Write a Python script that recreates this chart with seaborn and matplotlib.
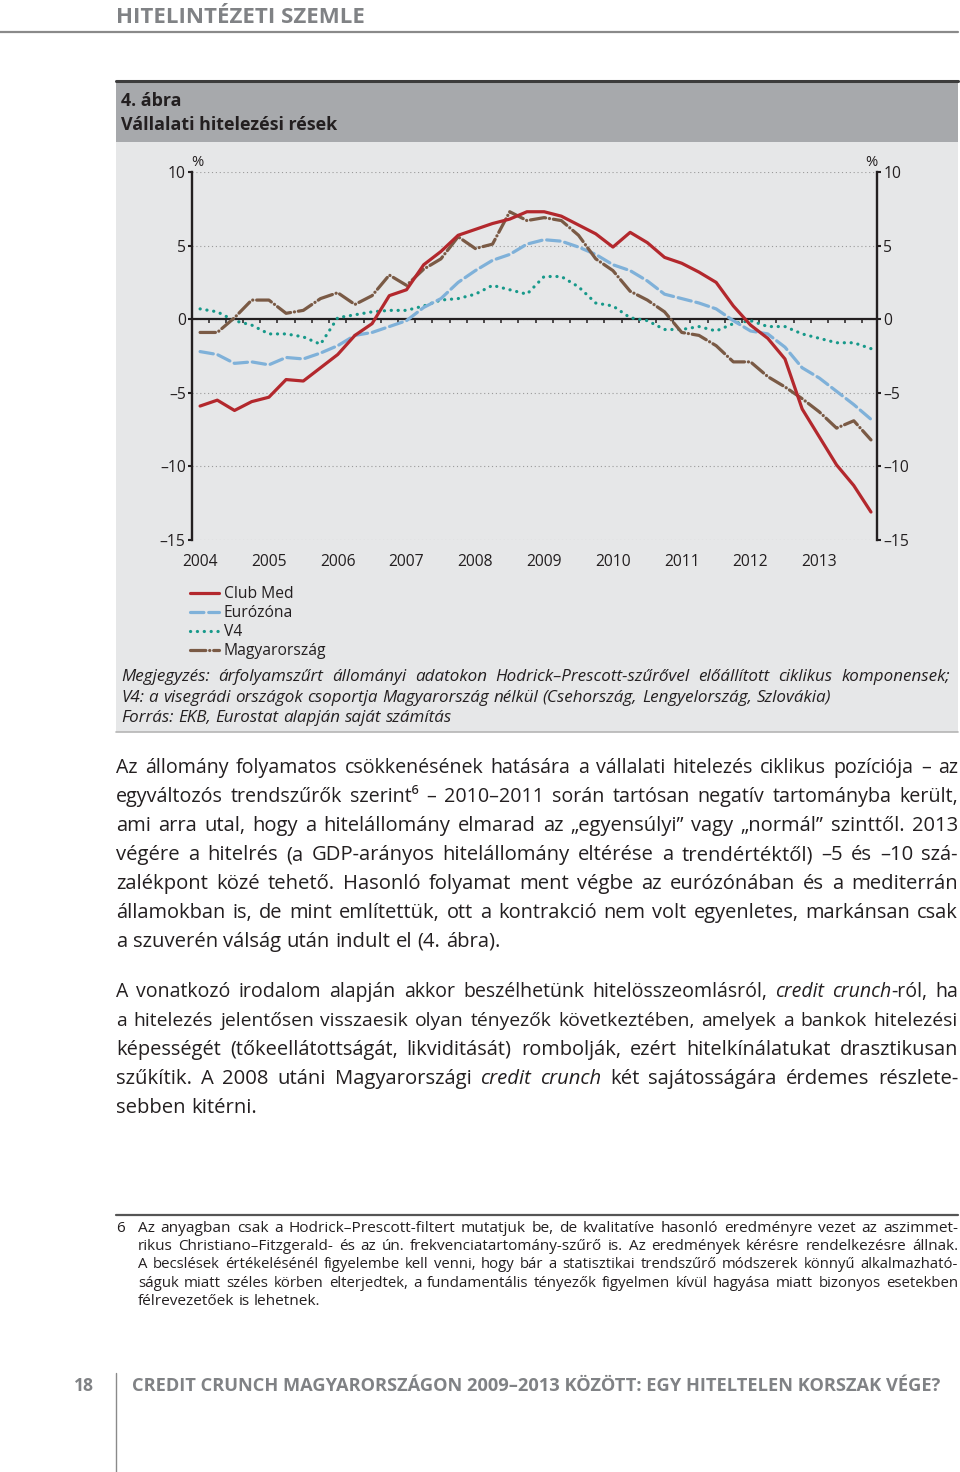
import numpy as np
import pandas as pd
import matplotlib
matplotlib.use("Agg")
import matplotlib.pyplot as plt
import matplotlib.transforms as mtransforms
from matplotlib.lines import Line2D
from matplotlib.patches import Rectangle
import seaborn as sns

# Chart data (quarterly, 2004Q1 - 2013Q4)
years = [2004, 2005, 2006, 2007, 2008, 2009, 2010, 2011, 2012, 2013]
club_med = [-5.9, -5.5, -6.2, -5.6, -5.3, -4.1, -4.2, -3.3, -2.4, -1.1,
            -0.3, 1.6, 2.0, 3.7, 4.6, 5.7, 6.1, 6.5, 6.8, 7.3,
            7.3, 7.0, 6.4, 5.8, 4.9, 5.9, 5.2, 4.2, 3.8, 3.2,
            2.5, 0.9, -0.4, -1.3, -2.7, -6.1, -8.0, -9.9, -11.3, -13.1]
eurozona = [-2.2, -2.4, -3.0, -2.9, -3.1, -2.6, -2.7, -2.3, -1.8, -1.1,
            -0.9, -0.5, -0.1, 0.8, 1.4, 2.5, 3.3, 4.0, 4.4, 5.1,
            5.4, 5.3, 4.9, 4.4, 3.7, 3.3, 2.6, 1.7, 1.4, 1.1,
            0.7, -0.1, -0.8, -1.0, -1.9, -3.3, -4.0, -4.9, -5.8, -6.8]
v4 = [0.7, 0.5, -0.1, -0.4, -1.0, -1.0, -1.2, -1.7, 0.1, 0.3,
      0.5, 0.6, 0.6, 0.9, 1.3, 1.4, 1.7, 2.3, 2.0, 1.7,
      2.9, 2.9, 2.2, 1.1, 0.9, 0.1, -0.1, -0.7, -0.7, -0.5,
      -0.8, -0.3, -0.1, -0.5, -0.5, -1.0, -1.3, -1.6, -1.6, -2.0]
magyar = [-0.9, -0.9, 0.1, 1.3, 1.3, 0.4, 0.6, 1.4, 1.8, 1.0,
          1.6, 3.0, 2.3, 3.4, 4.1, 5.6, 4.8, 5.1, 7.3, 6.7,
          6.9, 6.7, 5.7, 4.1, 3.3, 1.9, 1.3, 0.5, -0.9, -1.1,
          -1.8, -2.9, -2.9, -3.9, -4.6, -5.4, -6.3, -7.4, -6.9, -8.2]
series_names = ["Club Med", "Eurózóna", "V4", "Magyarország"]
ytick_vals = [-15, -10, -5, 0, 5, 10]
ytick_labels = ["–15", "–10", "–5", "0", "5", "10"]

# Page texts
header = "HITELINTÉZETI SZEMLE"
fig_num = "4. ábra"
fig_title = "Vállalati hitelezési rések"
notes = ["Megjegyzés: árfolyamszűrt állományi adatokon Hodrick–Prescott-szűrővel előállított ciklikus komponensek;",
         "V4: a visegrádi országok csoportja Magyarország nélkül (Csehország, Lengyelország, Szlovákia)",
         "Forrás: EKB, Eurostat alapján saját számítás"]
para1 = ["Az állomány folyamatos csökkenésének hatására a vállalati hitelezés ciklikus pozíciója – az",
         "egyváltozós trendszűrők szerint⁶ – 2010–2011 során tartósan negatív tartományba került,",
         "ami arra utal, hogy a hitelállomány elmarad az „egyensúlyi” vagy „normál” szinttől. 2013",
         "végére a hitelrés (a GDP-arányos hitelállomány eltérése a trendértéktől) –5 és –10 szá-",
         "zalékpont közé tehető. Hasonló folyamat ment végbe az eurózónában és a mediterrán",
         "államokban is, de mint említettük, ott a kontrakció nem volt egyenletes, markánsan csak",
         "a szuverén válság után indult el (4. ábra)."]
para2 = ["A vonatkozó irodalom alapján akkor beszélhetünk hitelösszeomlásról, _credit_ _crunch_-ról, ha",
         "a hitelezés jelentősen visszaesik olyan tényezők következtében, amelyek a bankok hitelezési",
         "képességét (tőkeellátottságát, likviditását) rombolják, ezért hitelkínálatukat drasztikusan",
         "szűkítik. A 2008 utáni Magyarországi _credit_ _crunch_ két sajátosságára érdemes részlete-",
         "sebben kitérni."]
footnote = ["Az anyagban csak a Hodrick–Prescott-filtert mutatjuk be, de kvalitatíve hasonló eredményre vezet az aszimmet-",
            "rikus Christiano–Fitzgerald- és az ún. frekvenciatartomány-szűrő is. Az eredmények kérésre rendelkezésre állnak.",
            "A becslések értékelésénél figyelembe kell venni, hogy bár a statisztikai trendszűrő módszerek könnyű alkalmazható-",
            "ságuk miatt széles körben elterjedtek, a fundamentális tényezők figyelmen kívül hagyása miatt bizonyos esetekben",
            "félrevezetőek is lehetnek."]
footer = "CREDIT CRUNCH MAGYARORSZÁGON 2009–2013 KÖZÖTT: EGY HITELTELEN KORSZAK VÉGE?"

sns.set_style("white")
FAM = ["Open Sans", "DejaVu Sans"]
plt.rcParams["font.family"] = FAM

W, H = 960, 1472
fig = plt.figure(figsize=(W / 100, H / 100), dpi=100, facecolor="white")
px = mtransforms.Affine2D().scale(1 / W, -1 / H).translate(0, 1) + fig.transFigure
R = fig.canvas.get_renderer()
INK = "#231f20"


def fit(s, width, **kw):
    t = fig.text(0, 0, s, fontsize=10, **kw)
    w = t.get_window_extent(R).width
    t.remove()
    return 10 * width / w


def segs(word, base):
    out = []
    for k, p in enumerate(word.split("_")):
        if p:
            st = base if k % 2 == 0 else ("italic" if base == "normal" else "normal")
            out.append((p, st))
    return out


def put_line(line, x0, x1, y, size, base="normal", justify=True, color=INK):
    if justify:
        # shrink a too-long line a little so words never collide
        size = min(size, fit(line.replace("_", ""), (x1 - x0) * 0.975, style=base))
    items = []
    total = 0
    for w in line.split(" "):
        arts = [fig.text(0, y, s, transform=px, fontsize=size, style=st,
                         color=color, va="baseline", ha="left")
                for s, st in segs(w, base)]
        ws = [a.get_window_extent(R).width for a in arts]
        items.append((arts, ws))
        total += sum(ws)
    if justify and len(items) > 1:
        gap = (x1 - x0 - total) / (len(items) - 1)
    else:
        gap = 0.27 * size * 100 / 72
    x = x0
    for arts, ws in items:
        for a, w in zip(arts, ws):
            a.set_x(x)
            x += w
        x += gap


# Header
fig.text(116, 23, header, transform=px, va="baseline", weight="bold", color="#808285",
         fontsize=fit(header, 249, weight="bold"))
fig.add_artist(Line2D([0, 958], [32, 32], transform=px, color="#8a8a8a", lw=1.6))

# Chart panel
fig.add_artist(Line2D([116, 958], [80.5, 80.5], transform=px, color="#3c3c3c", lw=2.2))
fig.add_artist(Rectangle((116, 82), 842, 60, transform=px, facecolor="#a7a9ac",
                         edgecolor="none", zorder=-2))
fig.add_artist(Rectangle((116, 142), 842, 590, transform=px, facecolor="#e6e7e8",
                         edgecolor="none", zorder=-2))
fig.add_artist(Line2D([116, 958], [731.5, 731.5], transform=px, color="#b5b5b5", lw=1.2))
tsize = fit(fig_title, 218, weight="bold")
fig.text(121, 106, fig_num, transform=px, va="baseline", weight="bold", color=INK, fontsize=tsize)
fig.text(121, 130, fig_title, transform=px, va="baseline", weight="bold", color=INK, fontsize=tsize)

csize = fit("Magyarország", 102)

ax = fig.add_axes([192 / W, 1 - 540 / H, 685 / W, 368 / H])
ax.patch.set_alpha(0)

q = np.arange(len(club_med))
df = pd.DataFrame({"q": np.tile(q, 4),
                   "val": club_med + eurozona + v4 + magyar,
                   "series": np.repeat(series_names, len(q))})

styles = {
    "Club Med": dict(color="#b3282d", linestyle="-"),
    "Eurózóna": dict(color="#7fb1d9", linestyle=(0, (4.2, 1.5))),
    "V4": dict(color="#17998a", linestyle=(0, (0.05, 2.1))),
    "Magyarország": dict(color="#7a5a45", linestyle=(0, (4.8, 1.2, 0.05, 1.2))),
}
for name in ["V4", "Eurózóna", "Magyarország", "Club Med"]:
    sub = df[df["series"] == name]
    sns.lineplot(data=sub, x="q", y="val", ax=ax, lw=2.3, errorbar=None,
                 dash_capstyle="round", solid_capstyle="round", **styles[name])

ax.set_xlabel("")
ax.set_ylabel("")
ax.set_ylim(-15, 10)
ax.set_xlim(-0.47, 39.35)
ax.set_yticks(ytick_vals)
ax.set_yticklabels(ytick_labels)
ax.tick_params(axis="y", left=True, right=True, labelleft=True, labelright=True,
               direction="out", length=3, width=1.5, pad=1.5, labelsize=csize,
               colors=INK)
ax.set_xticks(q[::4])
ax.set_xticklabels(years)
ax.tick_params(axis="x", length=0, pad=10, labelsize=csize, colors=INK)
for s in ["top", "bottom"]:
    ax.spines[s].set_visible(False)
for s in ["left", "right"]:
    ax.spines[s].set_linewidth(1.7)
    ax.spines[s].set_color(INK)
ax.grid(axis="y", linestyle=(0, (1, 2.5)), color="#9a9a9a", lw=0.8)
ax.grid(axis="x", visible=False)
ax.axhline(0, color=INK, lw=1.6, zorder=1.5)
ax.vlines(q[:-1] + 0.5, -0.28, 0, color=INK, lw=1.1, zorder=1.5)

fig.text(197, 166, "%", transform=px, fontsize=csize * 0.95, color=INK, ha="center", va="baseline")
fig.text(871, 166, "%", transform=px, fontsize=csize * 0.95, color=INK, ha="center", va="baseline")

handles = [Line2D([], [], lw=2.3, dash_capstyle="round", **styles[n]) for n in series_names]
fig.legend(handles, series_names, loc="upper left", bbox_to_anchor=(190, 586),
           bbox_transform=px, frameon=False, fontsize=csize, handlelength=1.85,
           handletextpad=0.3, labelspacing=0.2, borderpad=0, borderaxespad=0,
           labelcolor=INK)

# Notes
nsize = fit(notes[1], 707, style="italic")
put_line(notes[0], 121, 950, 681, nsize, base="italic", justify=True)
put_line(notes[1], 121, 950, 702, nsize, base="italic", justify=False)
put_line(notes[2], 121, 950, 722, nsize, base="italic", justify=False)

# Body text
bsize = fit(para1[-1], 389) * 0.985
for k, line in enumerate(para1):
    put_line(line, 116, 958, 773 + 29 * k, bsize, justify=k < len(para1) - 1)
for k, line in enumerate(para2):
    put_line(line, 116, 958, 997 + 29 * k, bsize, justify=k < len(para2) - 1)

# Footnote
fig.add_artist(Line2D([116, 958], [1215, 1215], transform=px, color="#555555", lw=1.6))
fsize = fit(footnote[-1], 184) * 0.985
fig.text(116, 1232, "6", transform=px, fontsize=fsize, color=INK, va="baseline")
for k, line in enumerate(footnote):
    put_line(line, 138, 958, 1232 + 18.2 * k, fsize, justify=k < len(footnote) - 1)

# Footer
fig.add_artist(Line2D([116, 116], [1373, 1472], transform=px, color="#8a8a8a", lw=1.0))
fig.text(74, 1391, "18", transform=px, va="baseline", weight="bold", color="#808285",
         fontsize=fit("18", 20, weight="bold"))
fig.text(132, 1391, footer, transform=px, va="baseline", weight="bold", color="#808285",
         fontsize=fit(footer, 808, weight="bold"))

fig.savefig("out.png", dpi=100, facecolor="white")
